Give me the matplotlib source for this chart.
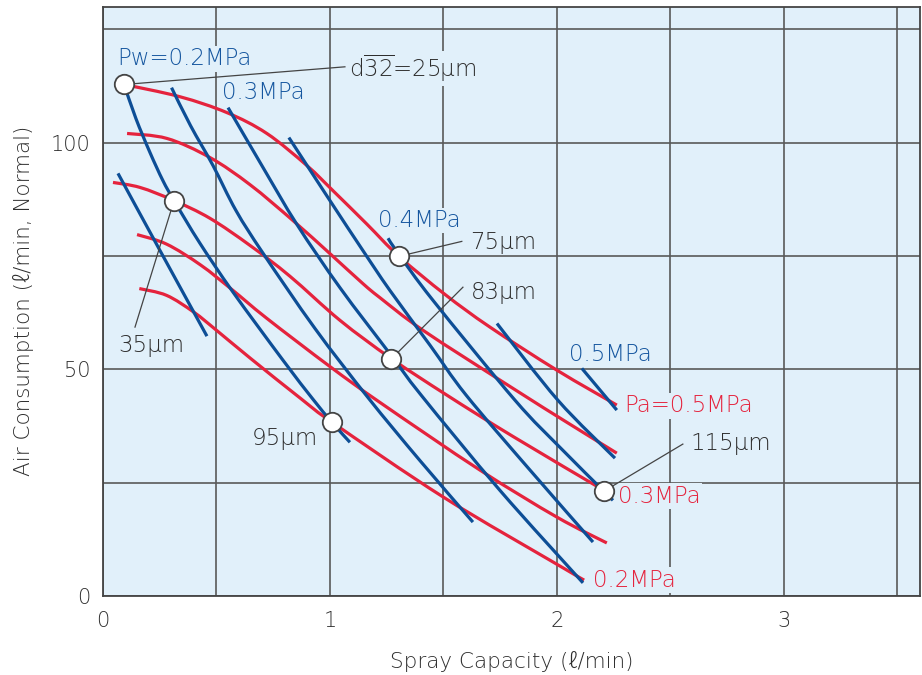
import matplotlib
matplotlib.use("Agg")
import matplotlib.pyplot as plt
from matplotlib.path import Path
from matplotlib.patches import PathPatch
import numpy as np

plt.rcParams['font.family'] = ['DejaVu Sans', 'Noto Sans CJK JP']
plt.rcParams['font.weight'] = 'light'
plt.rcParams['axes.labelweight'] = 'light'
plt.rcParams['mathtext.fontset'] = 'dejavusans'

# Air pressure curves (red), Pa = 0.5 ... 0.2 MPa
pa05_x = [0.093, 0.339, 0.546, 0.722, 0.899, 1.013, 1.163, 1.304, 1.507, 1.705, 2.000, 2.264]
pa05_y = [112.8, 110.1, 106.6, 102.0, 94.9, 89.4, 82.0, 74.9, 66.5, 59.3, 49.8, 42.1]
pa04_x = [0.106, 0.282, 0.471, 0.648, 0.837, 1.000, 1.145, 1.220, 1.410, 1.806, 2.044, 2.264]
pa04_y = [102.0, 100.9, 96.7, 90.7, 82.8, 75.5, 68.9, 65.8, 58.6, 45.8, 38.3, 31.5]
pa03_x = [0.044, 0.163, 0.313, 0.471, 0.648, 0.824, 1.044, 1.269, 1.515, 1.806, 2.207]
pa03_y = [91.2, 90.1, 87.2, 83.3, 77.3, 70.5, 60.8, 52.4, 44.3, 35.2, 23.3]
pa025_x = [0.15, 0.28, 0.43, 0.57, 0.72, 1.00, 1.22, 1.66, 2.00, 2.22]
pa025_y = [79.7, 77.6, 73.0, 67.5, 61.3, 50.6, 42.7, 27.8, 17.4, 11.7]
pa02_x = [0.16, 0.28, 0.40, 0.50, 0.65, 0.87, 1.01, 1.50, 2.00, 2.12]
pa02_y = [67.8, 66.3, 62.6, 58.6, 52.4, 43.6, 38.3, 21.8, 7.0, 3.5]

# Water pressure curves (blue), Pw = 0.15 ... 0.5 MPa
pw015_x = [0.066, 0.251, 0.458]
pw015_y = [93.2, 76.2, 57.3]
pw02_x = [0.093, 0.145, 0.207, 0.264, 0.313, 0.427, 0.573, 0.793, 0.925, 1.009, 1.088]
pw02_y = [112.8, 105.3, 97.8, 91.6, 87.2, 77.8, 67.0, 52.0, 43.4, 38.3, 33.9]
pw025_x = [0.302, 0.386, 0.485, 0.586, 0.705, 0.934, 1.167, 1.396, 1.630]
pw025_y = [112.1, 103.7, 94.9, 85.0, 75.6, 59.0, 43.8, 29.9, 16.3]
pw03_x = [0.551, 0.705, 0.855, 1.044, 1.269, 1.405, 1.749, 2.115]
pw03_y = [107.7, 94.5, 81.9, 68.0, 53.1, 44.1, 23.3, 2.9]
pw035_x = [0.819, 1.000, 1.145, 1.264, 1.441, 1.600, 1.881, 2.159]
pw035_y = [101.1, 87.2, 76.2, 67.4, 55.3, 44.3, 27.8, 11.9]
pw04_x = [1.256, 1.304, 1.454, 1.815, 2.013, 2.207, 2.247]
pw04_y = [78.9, 75.3, 65.2, 43.2, 32.8, 23.1, 21.1]
pw045_x = [1.736, 2.004, 2.256]
pw045_y = [60.1, 43.2, 30.4]
pw05_x = [2.11, 2.264]
pw05_y = [50.2, 41.0]

# droplet size (d32) markers
drop_x = [0.093, 0.313, 1.009, 1.304, 1.269, 2.207]
drop_y = [112.8, 87.2, 38.3, 74.9, 52.2, 23.1]

red = '#e5233d'
blue = '#0d4e96'
blue_txt = '#15569f'
bg = '#e1f0fa'
txt = '#2e2e2e'

fig = plt.figure(figsize=(9.22, 6.75), dpi=100)
ax = fig.add_axes([103 / 922, 79 / 675, 817 / 922, 589.5 / 675])
ax.set_facecolor(bg)
ax.set_xlim(0, 3.6)
ax.set_ylim(0, 130)

ax.set_xticks(np.arange(0, 3.6, 0.5))
ax.set_xticklabels(['0', '', '1', '', '2', '', '3', ''])
ax.set_yticks(np.arange(0, 130, 25))
ax.set_yticklabels(['0', '', '50', '', '100', ''])
ax.tick_params(length=0, labelsize=15, labelcolor=txt)
ax.tick_params(axis='x', pad=11)
ax.tick_params(axis='y', pad=9)
ax.grid(True, color='#595959', linewidth=1.2, zorder=0)
ax.set_axisbelow(True)
for s in ax.spines.values():
    s.set_color('#444444')
    s.set_linewidth(1.3)


def smooth_curve(xs, ys, color):
    # Catmull-Rom through the read points, drawn as cubic Bezier segments
    p = np.column_stack([xs, ys])
    n = len(p)
    verts = [p[0]]
    codes = [Path.MOVETO]
    for i in range(n - 1):
        p0 = p[i - 1] if i > 0 else p[i]
        p3 = p[i + 2] if i + 2 < n else p[i + 1]
        c1 = p[i] + (p[i + 1] - p0) / 6
        c2 = p[i + 1] - (p3 - p[i]) / 6
        verts += [c1, c2, p[i + 1]]
        codes += [Path.CURVE4] * 3
    ax.add_patch(PathPatch(Path(verts, codes), facecolor='none', edgecolor=color,
                           lw=2.3, zorder=4, capstyle='butt'))


for xs, ys in [(pa05_x, pa05_y), (pa04_x, pa04_y), (pa03_x, pa03_y),
               (pa025_x, pa025_y), (pa02_x, pa02_y)]:
    smooth_curve(xs, ys, red)

for xs, ys in [(pw015_x, pw015_y), (pw02_x, pw02_y), (pw025_x, pw025_y),
               (pw03_x, pw03_y), (pw035_x, pw035_y), (pw04_x, pw04_y),
               (pw045_x, pw045_y), (pw05_x, pw05_y)]:
    smooth_curve(xs, ys, blue)

# leader lines from markers to their labels
leaders = [((0.093, 112.8), (1.066, 116.7)),
           ((0.313, 87.2), (0.141, 59.3)),
           ((1.304, 74.9), (1.581, 78.2)),
           ((1.269, 52.2), (1.586, 68.1)),
           ((2.207, 23.1), (2.555, 33.5))]
for (x0, y0), (x1, y1) in leaders:
    ax.plot([x0, x1], [y0, y1], color='#444444', lw=0.9, zorder=5)

ax.plot(drop_x, drop_y, 'o', ms=14, mfc='white', mec='#444444', mew=1.3,
        zorder=6, linestyle='none')

box = dict(facecolor=bg, edgecolor='none', pad=1)


def label(x, y, s, color, ha='left'):
    ax.text(x, y, s, color=color, fontsize=16.5, ha=ha, va='center',
            zorder=3, bbox=box)


label(0.062, 118.5, 'Pw=0.2MPa', blue_txt)
label(0.524, 111.0, '0.3MPa', blue_txt)
label(1.211, 82.8, '0.4MPa', blue_txt)
label(2.053, 53.3, '0.5MPa', blue_txt)
label(1.084, 116.3, r'd$\overline{\mathregular{32}}$=25µm', txt)
label(1.617, 78.0, '75µm', txt)
label(1.620, 67.0, '83µm', txt)
label(0.066, 55.3, '35µm', txt)
label(0.948, 34.8, '95µm', txt, ha='right')
label(2.590, 33.7, '115µm', txt)
label(2.295, 41.9, 'Pa=0.5MPa', red)
label(2.269, 22.0, '0.3MPa', red)
label(2.159, 3.5, '0.2MPa', red)

ax.set_xlabel('Spray Capacity (ℓ/min)', fontsize=15.5, color=txt, labelpad=14)
ax.set_ylabel('Air Consumption (ℓ/min, Normal)', fontsize=15.5, color=txt, labelpad=12)

fig.savefig('out.png', dpi=100)
